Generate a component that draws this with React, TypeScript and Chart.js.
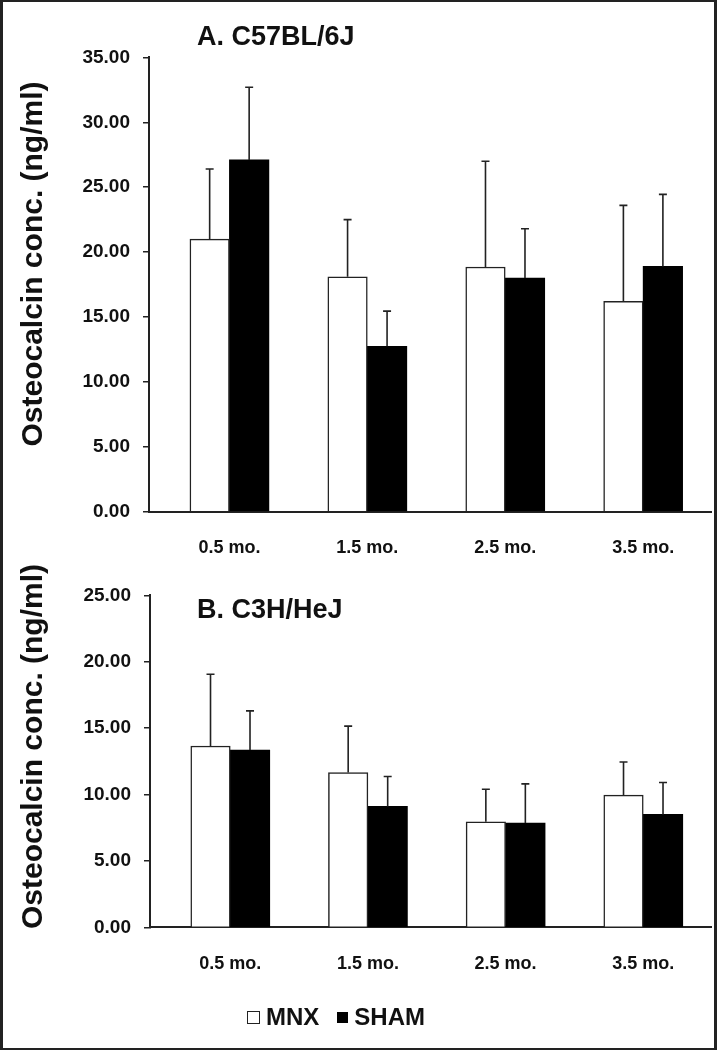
import React, { useEffect, useRef } from 'react';
import { Chart, registerables } from 'chart.js';

Chart.register(...registerables);

// ---------- data ----------
const categories = ['0.5 mo.', '1.5 mo.', '2.5 mo.', '3.5 mo.'];
const seriesNames = ['MNX', 'SHAM'];
const yAxisTitle = 'Osteocalcin conc. (ng/ml)';

const titleA = 'A. C57BL/6J';
const mnxA = [21.0, 18.1, 18.85, 16.2];
const mnxAErr = [5.4, 4.4, 8.15, 7.4];
const shamA = [27.1, 12.75, 18.0, 18.9];
const shamAErr = [5.6, 2.7, 3.8, 5.55];
const yMaxA = 35;

const titleB = 'B. C3H/HeJ';
const mnxB = [13.65, 11.65, 7.95, 9.95];
const mnxBErr = [5.4, 3.5, 2.45, 2.5];
const shamB = [13.35, 9.1, 7.85, 8.5];
const shamBErr = [2.95, 2.25, 2.95, 2.4];
const yMaxB = 25;

const yStep = 5;

// ---------- style ----------
const FONT = "'Liberation Sans', Arial, Helvetica, sans-serif";
const INK = '#111';
const X_MIN = -0.583;
const X_MAX = 3.492;

const errorBarPlugin = {
  id: 'errorBars',
  afterDatasetsDraw(chart: any) {
    const ctx = chart.ctx;
    const yScale = chart.scales.y;
    chart.data.datasets.forEach((ds: any, i: number) => {
      const meta = chart.getDatasetMeta(i);
      meta.data.forEach((bar: any, j: number) => {
        const v = ds.data[j].y;
        const e = ds.errors[j];
        const yTop = yScale.getPixelForValue(v + e);
        ctx.save();
        ctx.strokeStyle = '#222';
        ctx.lineWidth = 1.6;
        ctx.beginPath();
        ctx.moveTo(bar.x, bar.y);
        ctx.lineTo(bar.x, yTop);
        ctx.moveTo(bar.x - 4, yTop);
        ctx.lineTo(bar.x + 4, yTop);
        ctx.stroke();
        ctx.restore();
      });
    });
  },
};

const panelTextPlugin = {
  id: 'panelText',
  afterDraw(chart: any, _args: any, opts: any) {
    const ctx = chart.ctx;
    ctx.save();
    ctx.fillStyle = INK;
    ctx.textBaseline = 'middle';
    ctx.textAlign = 'left';
    ctx.font = `bold ${opts.titleSize}px ${FONT}`;
    ctx.fillText(opts.title, opts.titleX, opts.titleY);
    ctx.translate(opts.yTitleX, opts.yTitleY);
    ctx.rotate(-Math.PI / 2);
    ctx.textAlign = 'center';
    ctx.font = `bold ${opts.yTitleSize}px ${FONT}`;
    ctx.fillText(opts.yTitle, 0, 0);
    ctx.restore();
  },
};

type PanelProps = {
  top: number;
  height: number;
  title: string;
  mnx: number[];
  mnxErr: number[];
  sham: number[];
  shamErr: number[];
  yMax: number;
  axisLeft: number;
  areaTop: number;
  areaBottom: number;
  titleY: number;
  yTitleY: number;
};

function Panel(p: PanelProps) {
  const ref = useRef<HTMLCanvasElement | null>(null);
  useEffect(() => {
    if (!ref.current) return;
    const chart = new Chart(ref.current, {
      type: 'bar',
      data: {
        datasets: [
          {
            label: seriesNames[0],
            data: p.mnx.map((v, i) => ({ x: i, y: v })),
            errors: p.mnxErr,
            backgroundColor: '#ffffff',
            borderColor: '#222',
            borderWidth: 1.5,
            barThickness: 39.5,
          } as any,
          {
            label: seriesNames[1],
            data: p.sham.map((v, i) => ({ x: i, y: v })),
            errors: p.shamErr,
            backgroundColor: '#000000',
            borderColor: '#000000',
            borderWidth: 0,
            barThickness: 39.5,
          } as any,
        ],
      },
      options: {
        animation: false,
        responsive: false,
        maintainAspectRatio: false,
        layout: { padding: { top: p.areaTop, right: 6, left: 0, bottom: 0 } },
        plugins: {
          legend: { display: false },
          tooltip: { enabled: false },
          title: { display: false },
          panelText: {
            title: p.title,
            titleX: 197,
            titleY: p.titleY,
            titleSize: 27,
            yTitle: yAxisTitle,
            yTitleX: 34,
            yTitleY: p.yTitleY,
            yTitleSize: 30,
          },
        } as any,
        scales: {
          x: {
            type: 'linear',
            min: X_MIN,
            max: X_MAX,
            offset: false,
            grid: { display: false, offset: false },
            border: { display: true, color: '#222', width: 2 },
            afterBuildTicks: (s: any) => {
              s.ticks = categories.map((_, i) => ({ value: i }));
            },
            afterFit: (s: any) => {
              s.height = p.height - p.areaBottom;
            },
            ticks: {
              autoSkip: false,
              maxRotation: 0,
              padding: 18,
              color: INK,
              font: { family: FONT, size: 18, weight: 'bold' },
              callback: (v: any) => categories[v] ?? '',
            },
          },
          y: {
            min: 0,
            max: p.yMax,
            afterFit: (s: any) => {
              s.width = p.axisLeft;
            },
            ticks: {
              stepSize: yStep,
              padding: 13,
              color: INK,
              font: { family: FONT, size: 19, weight: 'bold' },
              callback: (v: any) => Number(v).toFixed(2),
            },
            grid: { drawOnChartArea: false, drawTicks: true, tickLength: 6, color: '#222', lineWidth: 1.5 },
            border: { display: true, color: '#222', width: 2 },
          },
        } as any,
      },
      plugins: [errorBarPlugin, panelTextPlugin],
    });
    return () => chart.destroy();
  }, []);
  return (
    <canvas
      ref={ref}
      width={717}
      height={p.height}
      style={{ position: 'absolute', left: 0, top: p.top, width: 717, height: p.height }}
    />
  );
}

export default function App() {
  return (
    <div style={{ position: 'relative', width: 717, height: 1050, background: '#fff', overflow: 'hidden' }}>
      <style>{'body{margin:0;background:#fff;}'}</style>
      <Panel
        top={0}
        height={575}
        title={titleA}
        mnx={mnxA}
        mnxErr={mnxAErr}
        sham={shamA}
        shamErr={shamAErr}
        yMax={yMaxA}
        axisLeft={149}
        areaTop={57.4}
        areaBottom={511.7}
        titleY={38}
        yTitleY={264}
      />
      <Panel
        top={545}
        height={505}
        title={titleB}
        mnx={mnxB}
        mnxErr={mnxBErr}
        sham={shamB}
        shamErr={shamBErr}
        yMax={yMaxB}
        axisLeft={150}
        areaTop={50.3}
        areaBottom={382.3}
        titleY={66}
        yTitleY={201.5}
      />
      <div
        style={{
          position: 'absolute',
          left: 247,
          top: 1003,
          height: 28,
          display: 'flex',
          alignItems: 'center',
          font: `bold 24px ${FONT}`,
          color: INK,
          whiteSpace: 'nowrap',
        }}
      >
        <span style={{ display: 'inline-block', width: 13, height: 13, boxSizing: 'border-box', border: '1.5px solid #222', background: '#fff', marginRight: 6 }} />
        <span>{seriesNames[0]}</span>
        <span style={{ display: 'inline-block', width: 11, height: 11, background: '#000', marginLeft: 18, marginRight: 6 }} />
        <span>{seriesNames[1]}</span>
      </div>
      <div
        style={{
          position: 'absolute',
          left: 0,
          top: 0,
          width: 717,
          height: 1050,
          boxSizing: 'border-box',
          borderTop: '2px solid #222',
          borderBottom: '2px solid #222',
          borderLeft: '3px solid #222',
          borderRight: '3px solid #222',
          pointerEvents: 'none',
        }}
      />
    </div>
  );
}
